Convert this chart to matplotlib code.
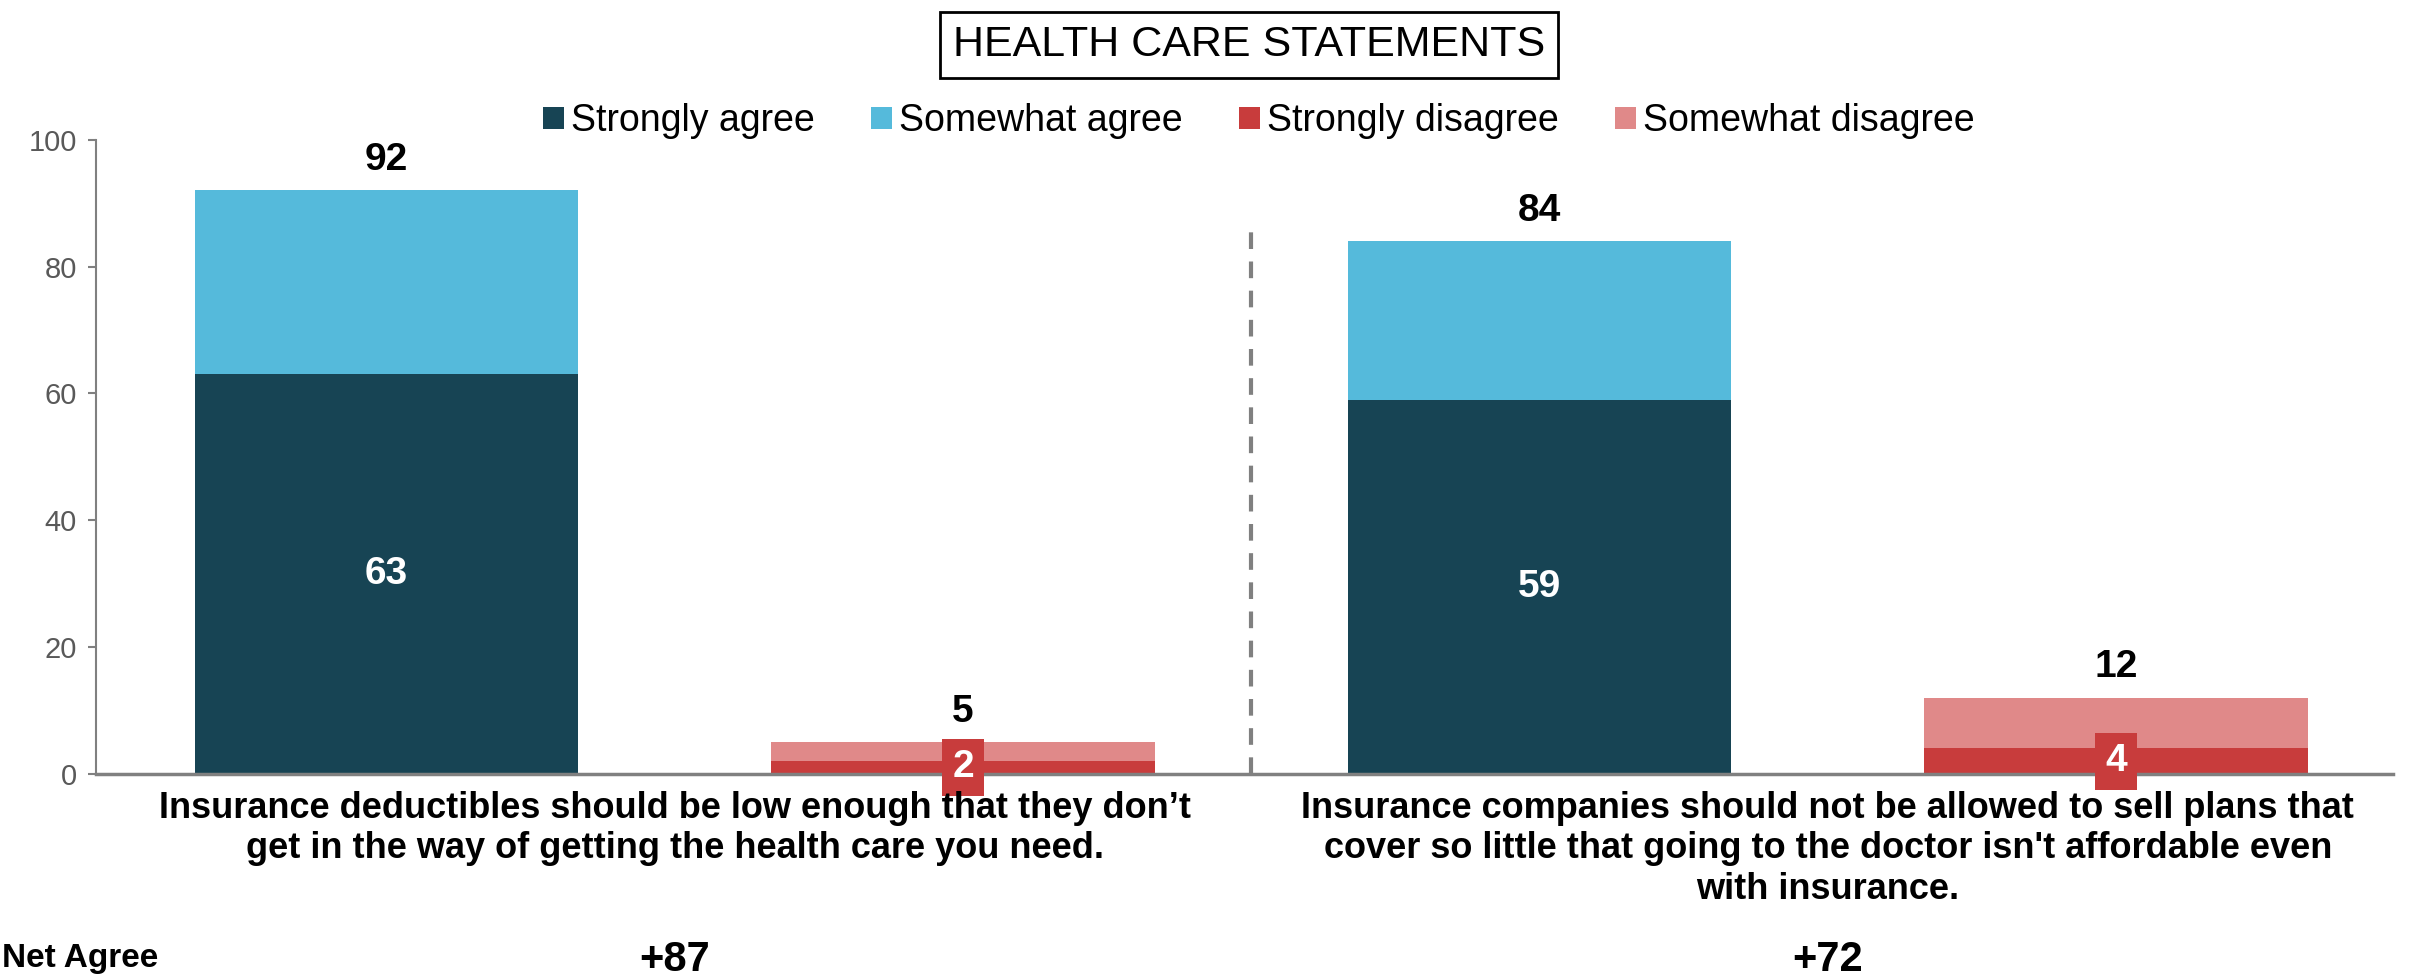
import matplotlib
matplotlib.use("Agg")
import matplotlib.pyplot as plt
import numpy as np

plt.rcParams['font.family'] = ['Liberation Sans', 'DejaVu Sans']

statements = [
    "Insurance deductibles should be low enough that they don\u2019t\nget in the way of getting the health care you need.",
    "Insurance companies should not be allowed to sell plans that\ncover so little that going to the doctor isn't affordable even\nwith insurance.",
]
net_agree = ["+87", "+72"]

strongly_agree = [63, 59]
somewhat_agree = [29, 25]
strongly_disagree = [2, 4]
somewhat_disagree = [3, 8]

c_sa = "#174454"
c_wa = "#55BADB"
c_sd = "#C83C3C"
c_wd = "#E08989"

fig = plt.figure(figsize=(24.12, 9.77), dpi=100)
ax = fig.add_axes([0.040, 0.208, 0.952, 0.649])

agree_x = np.array([0, 2])
dis_x = np.array([1, 3])
w = 0.665

ax.bar(agree_x, strongly_agree, w, color=c_sa, label="Strongly agree")
ax.bar(agree_x, somewhat_agree, w, bottom=strongly_agree, color=c_wa, label="Somewhat agree")
ax.bar(dis_x, strongly_disagree, w, color=c_sd, label="Strongly disagree")
ax.bar(dis_x, somewhat_disagree, w, bottom=strongly_disagree, color=c_wd, label="Somewhat disagree")

agree_tot = np.add(strongly_agree, somewhat_agree)
dis_tot = np.add(strongly_disagree, somewhat_disagree)

# totals above each stack
for x, t in list(zip(agree_x, agree_tot)) + list(zip(dis_x, dis_tot)):
    ax.annotate(str(t), (x, t), xytext=(0, 9), textcoords="offset points",
                ha="center", va="bottom", fontsize=28, fontweight="bold")

# strongly agree values inside the dark segment
for x, v in zip(agree_x, strongly_agree):
    ax.text(x, v / 2, str(v), ha="center", va="center", color="white",
            fontsize=28, fontweight="bold")

# strongly disagree values in a red tag
for x, v in zip(dis_x, strongly_disagree):
    ax.text(x, v / 2, str(v), ha="center", va="center", color="white",
            fontsize=28, fontweight="bold",
            bbox=dict(boxstyle="square,pad=0.27", fc=c_sd, ec="none"))

ax.axvline(1.5, color="#808080", lw=3, ls=(0, (4, 3)), ymax=0.87)

ax.set_xlim(-0.503, 3.48)
ax.set_ylim(0, 100)
ax.set_yticks(range(0, 101, 20))
ax.tick_params(axis="y", colors="#808080", labelsize=21, length=6, width=1.5,
               labelcolor="#595959", pad=8)
ax.set_xticks([])
for s in ["top", "right"]:
    ax.spines[s].set_visible(False)
ax.spines["left"].set_color("#808080")
ax.spines["bottom"].set_color("#808080")
ax.spines["left"].set_linewidth(1.5)
ax.spines["bottom"].set_linewidth(2.5)

for cx, txt in zip([0.5, 2.5], statements):
    ax.text(cx, -0.027, txt, transform=ax.get_xaxis_transform(), ha="center", va="top",
            fontsize=26, fontweight="bold", linespacing=1.2)
for cx, txt in zip([0.5, 2.5], net_agree):
    ax.text(cx, -0.293, txt, transform=ax.get_xaxis_transform(), ha="center", va="center",
            fontsize=30, fontweight="bold")
fig.text(0.001, 0.019, "Net Agree", ha="left", va="center", fontsize=24, fontweight="bold")

fig.text(0.518, 0.954, "HEALTH CARE STATEMENTS", ha="center", va="center", fontsize=31,
         bbox=dict(boxstyle="square,pad=0.3", fc="white", ec="black", lw=2))

fig.legend(loc="center", bbox_to_anchor=(0.522, 0.876), ncol=4, frameon=False,
           fontsize=27, handlelength=0.55, handleheight=0.55, handletextpad=0.2,
           columnspacing=1.5)

fig.savefig("out.png", dpi=100)
